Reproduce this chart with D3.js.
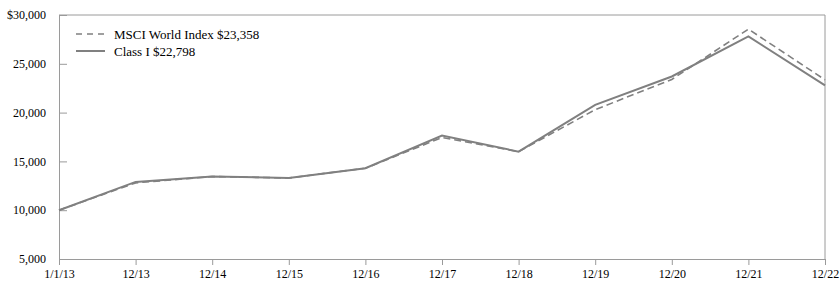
<!DOCTYPE html>
<html>
<head>
<meta charset="utf-8">
<script src="https://cdn.jsdelivr.net/npm/d3@7"></script>
<style>
  body { margin: 0; background: #fff; }
  text { font-family: "Liberation Serif", "Times New Roman", serif; font-size: 12px; fill: #000; }
</style>
</head>
<body>
<div id="chart"></div>
<script>
const dates = ["1/1/13", "12/13", "12/14", "12/15", "12/16", "12/17", "12/18", "12/19", "12/20", "12/21", "12/22"];
const msciValues = [10000, 12800, 13450, 13300, 14300, 17450, 16000, 20300, 23400, 28550, 23358];
const classIValues = [10000, 12900, 13450, 13300, 14300, 17650, 16000, 20800, 23700, 27800, 22798];
const yTicks = [5000, 10000, 15000, 20000, 25000, 30000];
const seriesNames = ["MSCI World Index $23,358", "Class I $22,798"];

const width = 840, height = 287;
const margin = { top: 15, right: 15, bottom: 28, left: 59 };

const svg = d3.select("#chart").append("svg")
  .attr("width", width)
  .attr("height", height);

const x = d3.scalePoint().domain(dates).range([margin.left, width - margin.right]);
const y = d3.scaleLinear().domain([5000, 30000]).range([height - margin.bottom, margin.top]);

const axisColor = "#9a9a9a";

// cadre haut et droit
svg.append("path")
  .attr("d", `M${margin.left},${margin.top}H${width - margin.right}V${height - margin.bottom}`)
  .attr("fill", "none")
  .attr("stroke", axisColor);

// axe y, graduations vers l'intérieur
const yAxis = svg.append("g")
  .attr("transform", `translate(${margin.left},0)`)
  .call(d3.axisRight(y).tickValues(yTicks).tickSize(8).tickFormat(""));
yAxis.select(".domain").attr("stroke", axisColor);
yAxis.selectAll(".tick line").attr("stroke", axisColor);

svg.append("g").selectAll("text")
  .data(yTicks)
  .enter()
  .append("text")
  .attr("x", margin.left - 13)
  .attr("y", d => y(d))
  .attr("dy", "0.35em")
  .attr("text-anchor", "end")
  .text(d => (d === 30000 ? "$" : "") + d3.format(",")(d));

// axe x
const xAxis = svg.append("g")
  .attr("transform", `translate(0,${height - margin.bottom})`)
  .call(d3.axisBottom(x).tickSize(6).tickPadding(4));
xAxis.select(".domain").attr("stroke", axisColor);
xAxis.selectAll(".tick line").attr("stroke", axisColor);
xAxis.selectAll(".tick text")
  .attr("font-family", "Liberation Serif, serif")
  .attr("font-size", "12px")
  .attr("fill", "#000");

const line = d3.line()
  .x((d, i) => x(dates[i]))
  .y(d => y(d));

svg.append("path")
  .datum(msciValues)
  .attr("d", line)
  .attr("fill", "none")
  .attr("stroke", "#808080")
  .attr("stroke-width", 1.6)
  .attr("stroke-dasharray", "7,4");

svg.append("path")
  .datum(classIValues)
  .attr("d", line)
  .attr("fill", "none")
  .attr("stroke", "#808080")
  .attr("stroke-width", 2);

// légende
const legend = svg.append("g").attr("transform", "translate(76,34)");
[["6,5", 1.6], [null, 2]].forEach(function (s, i) {
  legend.append("line")
    .attr("x1", 0).attr("x2", 29)
    .attr("y1", i * 17).attr("y2", i * 17)
    .attr("stroke", "#808080")
    .attr("stroke-width", s[1])
    .attr("stroke-dasharray", s[0]);
  legend.append("text")
    .attr("x", 38)
    .attr("y", i * 17)
    .attr("dy", "0.35em")
    .style("font-size", "13px")
    .text(seriesNames[i]);
});
</script>
</body>
</html>
